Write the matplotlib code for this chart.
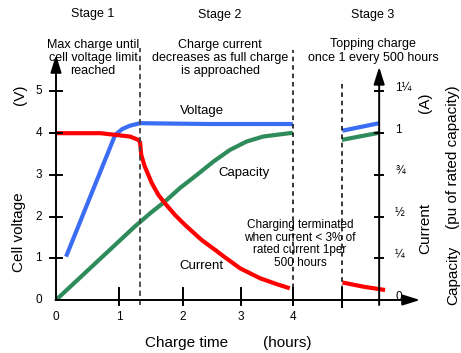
import matplotlib
matplotlib.use("Agg")
import matplotlib.pyplot as plt

plt.rcParams['font.family'] = ['Liberation Sans', 'DejaVu Sans']

# curves, x in hours, y in volts (1 pu of rated capacity = 4 on the same scale)
volt_t = [0.17, 1.0, 1.12, 1.25, 1.42, 2.0, 2.6, 3.2, 4.0]
volt_v = [1.04, 3.96, 4.10, 4.18, 4.24, 4.23, 4.22, 4.22, 4.22]
volt2_t = [4.84, 5.46]
volt2_v = [4.06, 4.24]

cur_t = [0, 0.75, 1.0, 1.25, 1.39, 1.42, 1.44, 1.50, 1.62, 1.73, 1.84, 2.01, 2.18,
         2.46, 2.69, 2.82, 3.11, 3.45, 3.73, 3.95]
cur_v = [4.0, 4.0, 3.96, 3.92, 3.84, 3.78, 3.48, 3.20, 2.80, 2.52, 2.32, 2.04, 1.80,
         1.44, 1.20, 1.06, 0.76, 0.52, 0.38, 0.28]
cur2_t = [4.84, 5.19, 5.56]
cur2_v = [0.42, 0.32, 0.24]

cap_t = [0, 1.33, 1.6, 1.84, 2.09, 2.38, 2.66, 2.94, 3.22, 3.5, 4.0]
cap_v = [0, 1.76, 2.09, 2.36, 2.68, 3.0, 3.32, 3.6, 3.8, 3.92, 4.01]
cap2_t = [4.83, 5.46]
cap2_v = [3.84, 4.01]

# axis furniture
xtick_pos = [1.07, 2.14, 3.13, 4.0]
xtick_lab = ['1', '2', '3', '4']
ytick_lab = ['0', '1', '2', '3', '4', '5']
rtick_lab = ['0', '\u00bc', '\u00bd', '\u00be', '1', '1\u00bc']
stage_x = [1.42, 4.0, 4.84]
right_x = 5.46

W, H = 461, 353
fig = plt.figure(figsize=(W / 100, H / 100), dpi=100)
ax = fig.add_axes([56 / W, 53 / H, 364 / W, 245 / H])
ax.set_xlim(0, 6.15)
ax.set_ylim(0, 5.875)
ax.axis('off')

blue, red, green = '#3a6cf4', '#ff0000', '#2e8b5a'
lw = 3.0
ax.plot(volt_t, volt_v, color=blue, lw=lw, solid_capstyle='butt')
ax.plot(volt2_t, volt2_v, color=blue, lw=lw, solid_capstyle='butt')
ax.plot(cap_t, cap_v, color=green, lw=lw, solid_capstyle='butt')
ax.plot(cap2_t, cap2_v, color=green, lw=lw, solid_capstyle='butt')
ax.plot(cur_t, cur_v, color=red, lw=lw, solid_capstyle='butt', solid_joinstyle='round')
ax.plot(cur2_t, cur2_v, color=red, lw=lw, solid_capstyle='butt', clip_on=False)

# stage separators
ax.plot([stage_x[0]] * 2, [-0.12, 6.04], color='#444444', lw=1.3, ls=(0, (3, 2)), clip_on=False)
ax.plot([stage_x[1]] * 2, [-0.12, 6.0], color='black', lw=1.1, ls=(0, (3, 2.5)), clip_on=False)
ax.plot([stage_x[2]] * 2, [-0.17, 5.28], color='black', lw=1.1, ls=(0, (3, 2.5)), clip_on=False)

# axes with arrows
arrow = dict(arrowstyle='-|>,head_length=0.7,head_width=0.22', color='black', lw=1.4,
             mutation_scale=15, shrinkA=0, shrinkB=0)
ax.annotate('', xy=(0, 5.875), xytext=(0, 0), arrowprops=arrow, annotation_clip=False)
ax.annotate('', xy=(6.15, 0), xytext=(-0.01, 0), arrowprops=arrow, annotation_clip=False)
ax.annotate('', xy=(right_x, 5.59), xytext=(right_x, -0.12), arrowprops=arrow, annotation_clip=False)

for i, lab in enumerate(ytick_lab):
    if i > 0:
        ax.plot([-0.1, 0.1], [i, i], color='black', lw=1.4, clip_on=False)
        ax.plot([right_x - 0.07, right_x + 0.07], [i, i], color='black', lw=1.4, clip_on=False)
    ax.text(-0.29, i, lab, ha='center', va='center', fontsize=8.5)
    ax.text(5.73, i + 0.08, rtick_lab[i], ha='left', va='center', fontsize=8.5)

for p, lab in zip(xtick_pos, xtick_lab):
    ax.plot([p, p], [-0.12, 0.29], color='black', lw=1.4, clip_on=False)
    ax.text(p, -0.41, lab, ha='center', va='center', fontsize=8.5)
ax.plot([stage_x[2]] * 2, [-0.17, 0.29], color='black', lw=1.4, clip_on=False)
ax.text(0, -0.41, '0', ha='center', va='center', fontsize=8.5)

# curve labels
ax.text(2.47, 4.53, 'Voltage', ha='center', va='center', fontsize=9.5)
ax.text(3.17, 3.04, 'Capacity', ha='center', va='center', fontsize=9.5)
ax.text(2.46, 0.82, 'Current', ha='center', va='center', fontsize=9.5)


def ft(x, y, s, **kw):
    fig.text(x / W, 1 - y / H, s, ha='center', va='center', **kw)


ft(93, 14, 'Stage 1', fontsize=9)
ft(220, 15, 'Stage 2', fontsize=9)
ft(373, 15, 'Stage 3', fontsize=9)
ft(93, 58, 'Max charge until\ncell voltage limit\nreached', fontsize=9, linespacing=1.12)
ft(220, 58, 'Charge current\ndecreases as full charge\nis approached', fontsize=9, linespacing=1.12)
ft(373, 51, 'Topping charge\nonce 1 every 500 hours', fontsize=9, linespacing=1.12)
ft(300, 244, 'Charging terminated\nwhen current < 3% of\nrated current 1per\n500 hours',
   fontsize=8.5, linespacing=1.1)

ft(19, 232, 'Cell voltage', fontsize=11, rotation=90)
ft(20, 95, '(V)', fontsize=11, rotation=90)
ft(187, 343, 'Charge time', fontsize=11)
ft(287, 343, '(hours)', fontsize=11)
ft(425, 103, '(A)', fontsize=11, rotation=90)
ft(425, 228, 'Current', fontsize=11, rotation=90)
ft(453, 157, '(pu of rated capacity)', fontsize=11, rotation=90)
ft(453, 275, 'Capacity', fontsize=11, rotation=90)

fig.savefig('out.png', dpi=100)
